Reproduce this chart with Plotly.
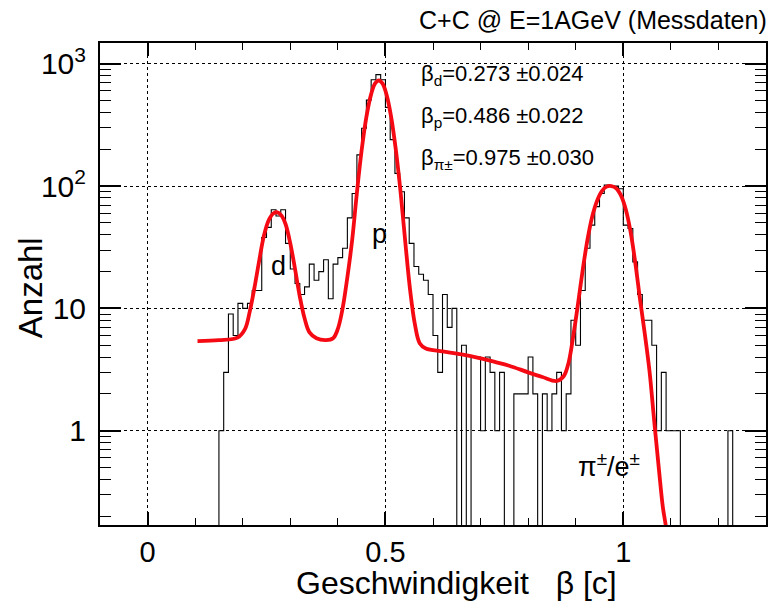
import plotly.graph_objects as go

# ---------------- data ----------------
bin_start = 0.15
bin_width = 0.01
counts = [1, 3, 9, 6, 11, 10, 11, 14, 14, 38,
          46, 64, 57, 64, 34, 21, 16, 13, 15, 23,
          17, 20, 25, 12, 23, 26, 31, 55, 87, 180,
          297, 505, 740, 815, 740, 440, 240, 127, 90, 55,
          34, 22, 19, 17, 13, 6, 3, 13, 7, 10,
          0, 5, 0, 4, 4, 1, 4, 3, 1, 3,
          0, 0, 2, 2, 2, 4, 2, 0, 2, 1,
          2, 3, 1, 2, 8, 5, 14, 31, 48, 68,
          87, 102, 100, 100, 95, 48, 45, 24, 13, 8,
          8, 5, 1, 3, 1, 1, 1, 0, 0, 0,
          0, 0, 0, 0, 0, 0, 0, 1]

fit_x = [0.105, 0.15, 0.19, 0.205, 0.215, 0.225, 0.235, 0.245, 0.255, 0.265,
         0.273, 0.282, 0.29, 0.30, 0.31, 0.32, 0.33, 0.34, 0.355, 0.375,
         0.39, 0.40, 0.41, 0.42, 0.43, 0.44, 0.45, 0.46, 0.47, 0.478,
         0.486, 0.494, 0.502, 0.512, 0.522, 0.532, 0.542, 0.552, 0.562, 0.572,
         0.585, 0.62, 0.66, 0.70, 0.73, 0.76, 0.80, 0.83, 0.86, 0.875,
         0.885, 0.895, 0.905, 0.915, 0.925, 0.935, 0.945, 0.955, 0.965, 0.975,
         0.985, 0.995, 1.005, 1.015, 1.025, 1.035, 1.045, 1.055, 1.065, 1.075,
         1.083, 1.090, 1.095]
fit_y = [5.4, 5.5, 5.8, 6.8, 9.5, 15, 25, 40, 53, 60,
         61, 57, 49, 34, 21, 12.5, 8.3, 6.4, 5.7, 5.5,
         5.7, 6.8, 10, 18, 36, 88, 196, 368, 565, 688,
         730, 688, 565, 368, 196, 88, 34, 14, 7.4, 5.2,
         4.7, 4.45, 4.2, 3.9, 3.65, 3.4, 3.0, 2.75, 2.55, 2.8,
         3.6, 6, 11, 21, 37, 57, 76, 91, 99, 100,
         96, 84, 65, 43, 24, 12, 6.3, 3.1, 1.2, 0.48,
         0.24, 0.16, 0.1]

x_tickvals = [0, 0.5, 1]
x_ticktext = ["0", "0.5", "1"]
y_tickvals = [1, 10, 100, 1000]
y_ticktext = ["1", "10", "10<sup>2</sup>", "10<sup>3</sup>"]
y_minor = [m * d for d in (0.1, 1, 10, 100) for m in range(2, 10)]

title_text = "C+C @ E=1AGeV (Messdaten)"
fit_labels = ["β<sub>d</sub>=0.273 ±0.024",
              "β<sub>p</sub>=0.486 ±0.022",
              "β<sub>π±</sub>=0.975 ±0.030"]
peak_labels = ["d", "p", "π<sup>±</sup>/e<sup>±</sup>"]

# ---------------- build histogram outline ----------------
FLOOR = 1e-3  # below visible range: zero bins drop to the frame
edges = [bin_start + i * bin_width for i in range(len(counts) + 1)]
hx = [edges[0]] + edges
hy = [FLOOR] + [c if c > 0 else FLOOR for c in counts] + [FLOOR]

FONT = "Liberation Sans, Arial, sans-serif"

fig = go.Figure()
fig.add_trace(go.Scatter(x=hx, y=hy, mode="lines", line=dict(color="black", width=1.1, shape="hv"),
                         hoverinfo="skip", showlegend=False))
fig.add_trace(go.Scatter(x=fit_x, y=fit_y, mode="lines",
                         line=dict(color="#f50a14", width=3.8, shape="spline", smoothing=1.0),
                         showlegend=False))

W, H = 776, 606
L, R, T, B = 100, 8, 43, 81
pw, ph = W - L - R, H - T - B


def px(x):
    return (x - L) / pw


def py(y):
    return (H - B - y) / ph


ann = []
ann.append(dict(text=title_text, x=px(771), y=py(20), xanchor="right", yanchor="middle",
                font=dict(size=25, color="black", family=FONT)))
for i, t in enumerate(fit_labels):
    ann.append(dict(text=t, x=px(420), y=py(75 + 42 * i), xanchor="left", yanchor="middle",
                    font=dict(size=22, color="black", family=FONT)))
for t, (ax_, ay_) in zip(peak_labels, [(279, 266), (380, 234), (611, 465)]):
    ann.append(dict(text=t, x=px(ax_), y=py(ay_), xanchor="center", yanchor="middle",
                    font=dict(size=27, color="black", family=FONT)))
ann.append(dict(text="Geschwindigkeit   β [c]", x=px(458), y=py(583), xanchor="center", yanchor="middle",
                font=dict(size=32, color="black", family=FONT)))
ann.append(dict(text="Anzahl", x=px(30), y=py(288), xanchor="center", yanchor="middle", textangle=-90,
                font=dict(size=33, color="black", family=FONT)))
for a in ann:
    a.update(xref="paper", yref="paper", showarrow=False)

fig.update_layout(
    width=W, height=H, autosize=False,
    margin=dict(l=L, r=R, t=T, b=B, pad=0),
    paper_bgcolor="white", plot_bgcolor="white",
    font=dict(family=FONT, color="black"),
    annotations=ann,
    xaxis=dict(range=[-0.1, 1.3], tickmode="array", tickvals=x_tickvals, ticktext=x_ticktext,
               ticks="inside", ticklen=13, tickwidth=1.5, tickcolor="black",
               minor=dict(dtick=0.1, tick0=0, ticks="inside", ticklen=7, tickwidth=1.2, tickcolor="black",
                          showgrid=False),
               showline=True, linecolor="black", linewidth=2, mirror="allticks",
               showgrid=True, gridcolor="black", griddash="dot", gridwidth=1.2,
               zeroline=False, tickfont=dict(size=29, family=FONT), ticklabelstandoff=0),
    yaxis=dict(type="log", range=[-0.771, 3.170], tickmode="array", tickvals=y_tickvals, ticktext=y_ticktext,
               ticks="inside", ticklen=21, tickwidth=1.5, tickcolor="black",
               minor=dict(tickmode="array", tickvals=y_minor, ticks="inside", ticklen=11, tickwidth=1.2,
                          tickcolor="black", showgrid=False),
               showline=True, linecolor="black", linewidth=2, mirror="allticks",
               showgrid=True, gridcolor="black", griddash="dot", gridwidth=1.2,
               zeroline=False, tickfont=dict(size=30, family=FONT), ticklabelstandoff=6),
)

fig.write_html("out.html")
